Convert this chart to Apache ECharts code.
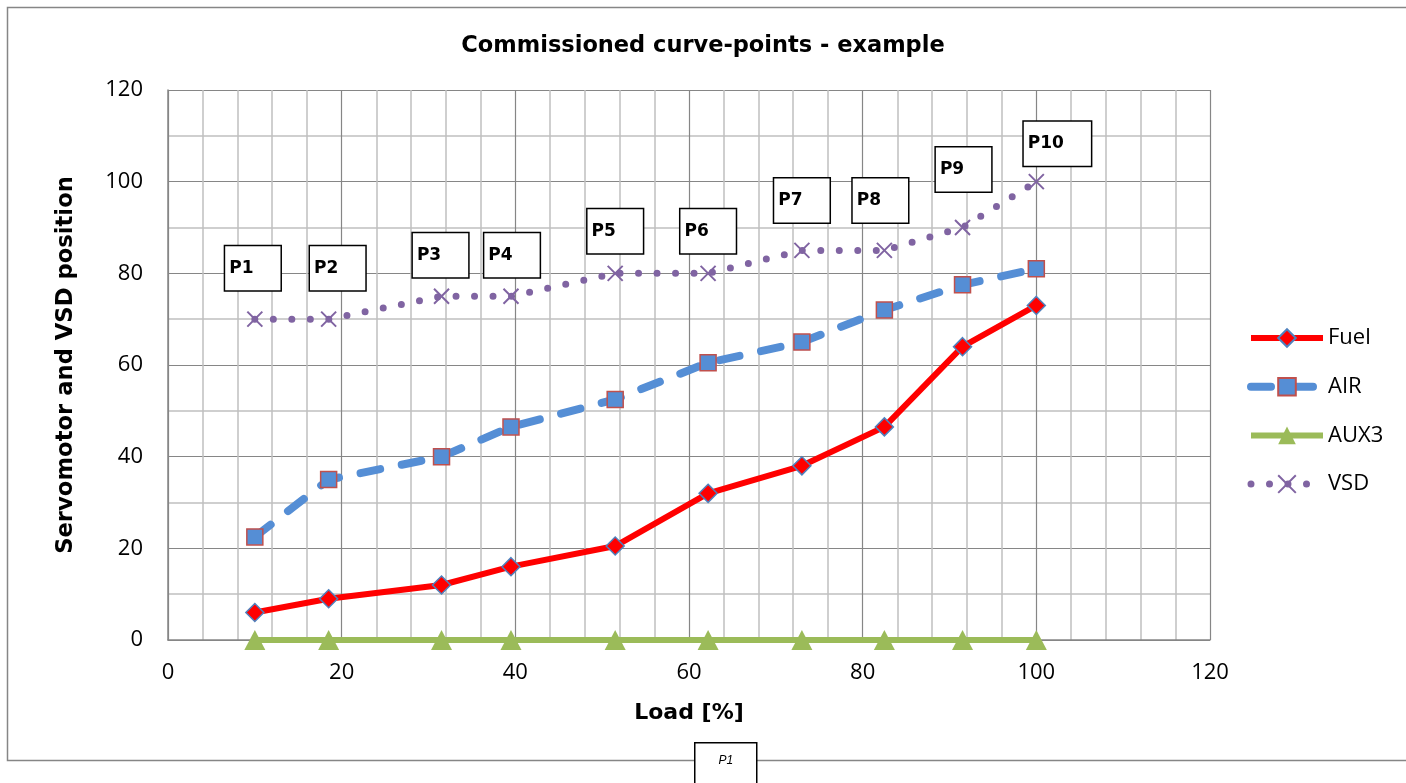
<!DOCTYPE html>
<html>
<head>
<meta charset="utf-8">
<title>Commissioned curve-points - example</title>
<script src="https://cdn.jsdelivr.net/npm/echarts@6/dist/echarts.min.js"></script>
<style>
  html, body { margin: 0; padding: 0; background: #fff; }
  #chart { width: 1406px; height: 783px; }
</style>
</head>
<body>
<div id="chart"></div>
<script>
// load points [%] and curve values
var loads = [10, 18.5, 31.5, 39.5, 51.5, 62.2, 73, 82.5, 91.5, 100];
var fuel = [6, 9, 12, 16, 20.5, 32, 38, 46.5, 64, 73];
var air = [22.5, 35, 40, 46.5, 52.5, 60.5, 65, 72, 77.5, 81];
var aux3 = [0, 0, 0, 0, 0, 0, 0, 0, 0, 0];
var vsd = [70, 70, 75, 75, 80, 80, 85, 85, 90, 100];
var pointNames = ["P1", "P2", "P3", "P4", "P5", "P6", "P7", "P8", "P9", "P10"];

// where each point box sits, relative to its VSD marker
var labelOffsets = [[-2, -51], [9, -51], [-1, -41], [1, -41], [0, -42],
                    [0, -42], [0, -50], [-4, -50], [1, -58], [21, -38]];

var tickFont = "'Open Sans', sans-serif";
var boldFont = "'DejaVu Sans', sans-serif";

function pairs(ys) {
    return loads.map(function (x, i) { return [x, ys[i]]; });
}

var chart = echarts.init(document.getElementById("chart"));

chart.setOption({
    animation: false,
    backgroundColor: "#fff",
    title: {
        text: "Commissioned curve-points - example",
        left: "center",
        top: 30,
        textStyle: { fontFamily: boldFont, fontSize: 22.5, fontWeight: "bold", color: "#000" }
    },
    graphic: [
        {
            type: "rect",
            z: -10,
            shape: { x: 7.5, y: 7.5, width: 1420, height: 753 },
            style: { fill: "none", stroke: "#868686", lineWidth: 1.5 }
        },
        {
            type: "group",
            left: 694,
            top: 742,
            z: 100,
            children: [
                {
                    type: "rect",
                    shape: { x: 0, y: 0, width: 62, height: 60 },
                    style: { fill: "#fff", stroke: "#000", lineWidth: 1.5 }
                },
                {
                    type: "text",
                    x: 31,
                    y: 18,
                    style: {
                        text: "P1", fill: "#000", align: "center", verticalAlign: "middle",
                        font: "italic 12px 'Liberation Sans', Arial, sans-serif"
                    }
                }
            ]
        }
    ],
    legend: {
        orient: "vertical",
        left: 1247,
        top: 327,
        padding: 0,
        itemWidth: 72,
        itemHeight: 22,
        itemGap: 26.7,
        lineStyle: { width: "inherit" },
        textStyle: { fontFamily: tickFont, fontSize: 22, color: "#000" },
        data: ["Fuel", "AIR", "AUX3", "VSD"]
    },
    grid: { left: 168, right: 196, top: 90, bottom: 143 },
    xAxis: {
        type: "value",
        min: 0,
        max: 120,
        interval: 20,
        name: "Load [%]",
        nameLocation: "middle",
        nameGap: 62,
        nameTextStyle: { fontFamily: boldFont, fontSize: 22, fontWeight: "bold", color: "#000" },
        axisLine: { show: true, lineStyle: { color: "#868686", width: 1.5 } },
        axisTick: { show: false },
        axisLabel: { margin: 22, fontFamily: tickFont, fontSize: 22, color: "#000" },
        splitLine: { show: true, lineStyle: { color: "#868686", width: 1.2 } },
        minorTick: { show: false, splitNumber: 5 },
        minorSplitLine: { show: true, lineStyle: { color: "#c0c0c0", width: 1.5 } }
    },
    yAxis: {
        type: "value",
        min: 0,
        max: 120,
        interval: 20,
        name: "Servomotor and VSD position",
        nameLocation: "middle",
        nameGap: 90,
        nameRotate: 90,
        nameTextStyle: { fontFamily: boldFont, fontSize: 22.7, fontWeight: "bold", color: "#000" },
        axisLine: { show: true, lineStyle: { color: "#868686", width: 1.5 } },
        axisTick: { show: false },
        axisLabel: { margin: 25, fontFamily: tickFont, fontSize: 22, color: "#000" },
        splitLine: { show: true, lineStyle: { color: "#868686", width: 1.2 } },
        minorTick: { show: false, splitNumber: 2 },
        minorSplitLine: { show: true, lineStyle: { color: "#c0c0c0", width: 1.5 } }
    },
    series: [
        {
            name: "Fuel",
            type: "line",
            data: pairs(fuel),
            color: "#ff0000",
            symbol: "diamond",
            symbolSize: 18,
            lineStyle: { color: "#ff0000", width: 6 },
            itemStyle: { color: "#ff0000", borderColor: "#4f81bd", borderWidth: 1.5 },
            z: 4
        },
        {
            name: "AIR",
            type: "line",
            data: pairs(air),
            color: "#558ed5",
            symbol: "rect",
            symbolSize: 16,
            lineStyle: { color: "#558ed5", width: 8, type: [20, 22], cap: "round" },
            itemStyle: { color: "#558ed5", borderColor: "#c0504d", borderWidth: 1.5 },
            z: 3
        },
        {
            name: "AUX3",
            type: "line",
            data: pairs(aux3),
            color: "#9bbb59",
            symbol: "triangle",
            symbolSize: [21, 20],
            lineStyle: { color: "#9bbb59", width: 6 },
            itemStyle: { color: "#9bbb59" },
            z: 5
        },
        {
            name: "VSD",
            type: "line",
            data: pairs(vsd).map(function (p, i) {
                return { value: p, label: { offset: labelOffsets[i] } };
            }),
            color: "#8064a2",
            symbol: "path://M0,0L10,10M10,0L0,10",
            symbolSize: 15,
            lineStyle: { color: "#8064a2", width: 7, type: [0, 18.5], cap: "round" },
            itemStyle: { color: "#8064a2", borderColor: "#8064a2", borderWidth: 2 },
            label: {
                show: true,
                position: "inside",
                formatter: function (p) { return pointNames[p.dataIndex]; },
                fontFamily: boldFont,
                fontSize: 17,
                fontWeight: "bold",
                lineHeight: 17,
                color: "#000",
                backgroundColor: "#fff",
                borderColor: "#000",
                borderWidth: 1.5,
                padding: [13.5, 27, 13.5, 4]
            },
            z: 6
        }
    ]
});
</script>
</body>
</html>
